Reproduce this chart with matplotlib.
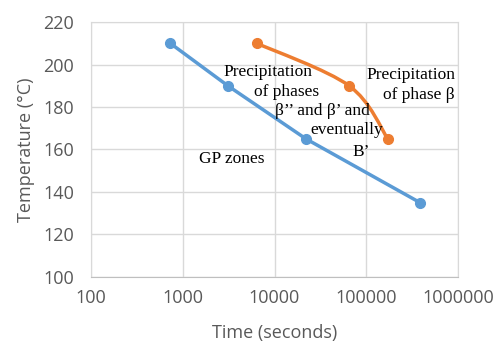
import numpy as np
import matplotlib.pyplot as plt
from matplotlib.path import Path
from matplotlib.patches import PathPatch

gp_time = [730, 3100, 22000, 385000]
gp_temp = [210, 190, 165, 135]
beta_time = [6400, 65000, 172000]
beta_temp = [210, 190, 165]

x_ticks = [100, 1000, 10000, 100000, 1000000]
y_ticks = [100, 120, 140, 160, 180, 200, 220]

blue = '#5b9bd5'
orange = '#ed7d31'
grey = '#595959'
tick_font = 'Open Sans'
note_font = 'Liberation Serif'


def smooth_path(ax, xs, ys):
    # excel-style smoothed line: bezier through the points, built in display space
    pts = ax.transData.transform(np.column_stack([xs, ys]))
    n = len(pts)
    verts = [pts[0]]
    codes = [Path.MOVETO]
    for i in range(n - 1):
        p0 = pts[max(i - 1, 0)]
        p1 = pts[i]
        p2 = pts[i + 1]
        p3 = pts[min(i + 2, n - 1)]
        verts += [p1 + (p2 - p0) / 6, p2 - (p3 - p1) / 6, p2]
        codes += [Path.CURVE4] * 3
    verts = ax.transData.inverted().transform(np.array(verts))
    return Path(verts, codes)


fig = plt.figure(figsize=(5, 3.44), dpi=100)
ax = fig.add_axes([0.182, 0.195, 0.734, 0.741])

ax.set_xscale('log')
ax.set_xlim(100, 1000000)
ax.set_ylim(100, 220)
ax.set_xticks(x_ticks)
ax.set_xticklabels([str(t) for t in x_ticks])
ax.set_yticks(y_ticks)
ax.minorticks_off()
ax.tick_params(length=0, labelsize=13, labelcolor=grey)
ax.tick_params(axis='x', pad=9)
ax.tick_params(axis='y', pad=12)
for lab in ax.get_xticklabels() + ax.get_yticklabels():
    lab.set_fontfamily(tick_font)

ax.grid(True, color='#d9d9d9', linewidth=1)
ax.set_axisbelow(True)
for side in ax.spines:
    ax.spines[side].set_color('#d9d9d9')
ax.spines['bottom'].set_color('#bfbfbf')

ax.plot(gp_time, gp_temp, color=blue, linewidth=2.5, marker='o', markersize=7,
        solid_capstyle='round', zorder=3)

ax.add_patch(PathPatch(smooth_path(ax, beta_time, beta_temp), facecolor='none',
                       edgecolor=orange, linewidth=2.5, capstyle='round', zorder=3))
ax.plot(beta_time, beta_temp, linestyle='none', marker='o', markersize=7,
        color=orange, zorder=4)

notes = [
    (2750, 196.5, 'Precipitation'),
    (5980, 187, 'of phases'),
    (10100, 178, 'β’’ and β’ and'),
    (24400, 169, 'eventually'),
    (70000, 158.8, 'B’'),
    (99300, 195, 'Precipitation'),
    (151000, 185.6, 'of phase β'),
    (1500, 155.5, 'GP zones'),
]
for x, y, s in notes:
    ax.text(x, y, s, ha='left', va='center', fontsize=12.5, family=note_font,
            color='black', zorder=5)

ax.set_xlabel('Time (seconds)', fontsize=13, color=grey, family=tick_font, labelpad=12)
ax.set_ylabel('Temperature (°C)', fontsize=13, color=grey, family=tick_font, labelpad=6)

fig.savefig('out.png', dpi=100)
